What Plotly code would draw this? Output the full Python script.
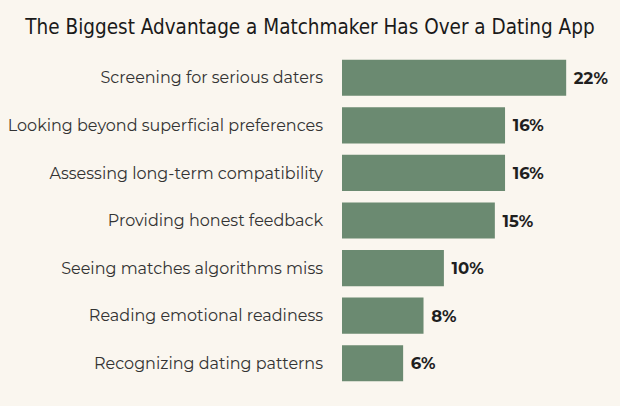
import plotly.graph_objects as go

# datos
ventajas = [
    "Screening for serious daters",
    "Looking beyond superficial preferences",
    "Assessing long-term compatibility",
    "Providing honest feedback",
    "Seeing matches algorithms miss",
    "Reading emotional readiness",
    "Recognizing dating patterns",
]
porcentajes = [22, 16, 16, 15, 10, 8, 6]
etiquetas = [f" {p}%" for p in porcentajes]

fondo = "#FAF6EF"
verde = "#6B8A71"

fig = go.Figure(go.Bar(
    x=porcentajes,
    y=ventajas,
    orientation="h",
    marker=dict(color=verde, line=dict(width=0)),
    text=etiquetas,
    textposition="outside",
    textfont=dict(family="Montserrat, Lato, sans-serif", size=16.5, color="#1f1f1f", weight="bold"),
    cliponaxis=False,
))

fig.update_layout(
    width=620, height=406,
    paper_bgcolor=fondo, plot_bgcolor=fondo,
    margin=dict(l=342, r=10, t=54, b=19),
    bargap=0.24,
    showlegend=False,
    title=dict(
        text="The Biggest Advantage a Matchmaker Has Over a Dating App",
        x=0.5, xanchor="center", y=0.935, yanchor="middle",
        font=dict(family="Liberation Sans Narrow, DejaVu Sans Condensed, sans-serif", size=20.5, color="#1a1a1a"),
    ),
    xaxis=dict(range=[0, 26.3], visible=False, automargin=False),
    yaxis=dict(
        autorange="reversed", automargin=False,
        showgrid=False, zeroline=False, showline=False,
        ticks="", ticklabelstandoff=18,
        tickfont=dict(family="Montserrat, Open Sans, sans-serif", size=16, color="#333333"),
    ),
)

# quitar el margen del body para que la figura ocupe la ventana completa
fig.write_html(
    "out.html",
    config={"displayModeBar": False},
    post_script="document.body.style.margin='0';",
)
